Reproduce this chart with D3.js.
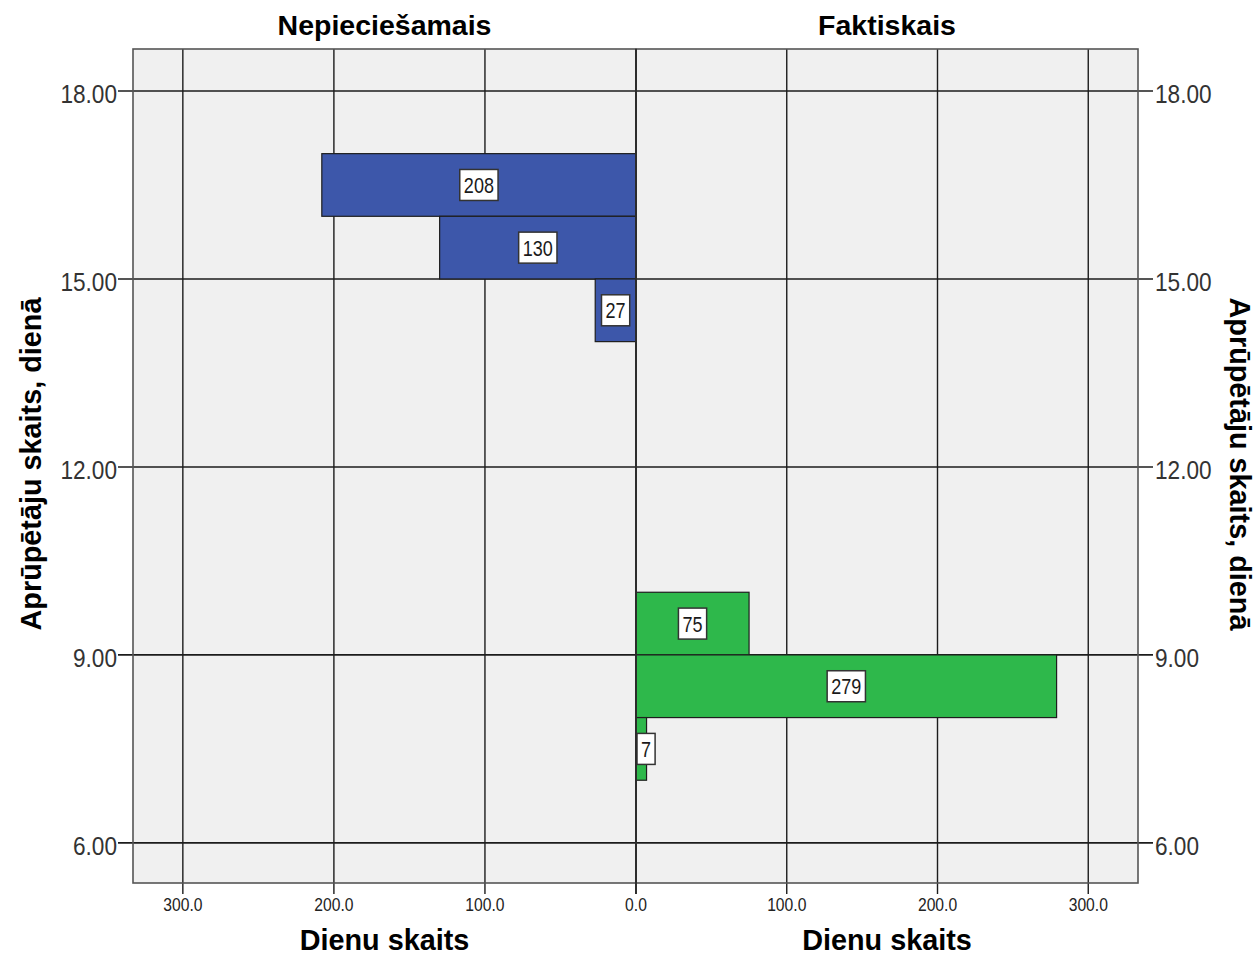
<!DOCTYPE html>
<html>
<head>
<meta charset="utf-8">
<script src="https://cdn.jsdelivr.net/npm/d3@7"></script>
<style>
  html, body { margin: 0; padding: 0; background: #ffffff; }
  svg { display: block; font-family: "Liberation Sans", Arial, sans-serif; }
</style>
</head>
<body>
<svg id="chart" width="1258" height="957"></svg>
<script>
// ---- data ----
const panelTitles = ["Nepieciešamais", "Faktiskais"];
const xAxisTitle = "Dienu skaits";
const yAxisTitle = "Aprūpētāju skaits, dienā";
const yTickValues = [6, 9, 12, 15, 18];
const xTickValues = [0, 100, 200, 300];
const binWidth = 1;
const requiredBinStart = [16, 15, 14];
const requiredCounts = [208, 130, 27];
const actualBinStart = [9, 8, 7];
const actualCounts = [75, 279, 7];

// ---- layout ----
const svg = d3.select("#chart");
const frame = { left: 133, mid: 636, right: 1138, top: 49, bottom: 883 };
const y = d3.scaleLinear().domain([5.36, 18.67]).range([frame.bottom, frame.top]);
const xL = d3.scaleLinear().domain([333, 0]).range([frame.left, frame.mid]);
const xR = d3.scaleLinear().domain([0, 333]).range([frame.mid, frame.right]);

const colors = { bg: "#f0f0f0", blue: "#3d57aa", green: "#2eb84b", grid: "#1c1c1c", frame: "#555" };

function condText(g, x, yy, txt, opts) {
  const t = g.append("g").attr("transform", `translate(${x},${yy}) scale(${opts.sx || 1},1)`)
    .append("text")
    .attr("x", 0).attr("y", 0)
    .attr("text-anchor", opts.anchor || "middle")
    .attr("font-size", opts.size)
    .attr("font-weight", opts.weight || "normal")
    .attr("fill", opts.fill || "#222")
    .text(txt);
  return t;
}

// background
svg.append("rect").attr("x", frame.left).attr("y", frame.top)
  .attr("width", frame.right - frame.left).attr("height", frame.bottom - frame.top)
  .attr("fill", colors.bg);

// vertical gridlines (extend below frame as ticks)
const grid = svg.append("g");
const vx = [];
xTickValues.forEach(v => { vx.push(xL(v)); if (v !== 0) vx.push(xR(v)); });
grid.selectAll("line.v").data(vx).enter().append("line")
  .attr("x1", d => d).attr("x2", d => d)
  .attr("y1", frame.top).attr("y2", frame.bottom + 11)
  .attr("stroke", colors.grid).attr("stroke-width", 1.4);

// horizontal gridlines (extend outside frame as ticks)
grid.selectAll("line.h").data(yTickValues).enter().append("line")
  .attr("x1", frame.left - 15).attr("x2", frame.right + 15)
  .attr("y1", d => y(d)).attr("y2", d => y(d))
  .attr("stroke", colors.grid).attr("stroke-width", 1.6);

// bars
function drawBars(starts, counts, xs, color, side) {
  const g = svg.append("g");
  const data = starts.map((s, i) => ({ s, c: counts[i] }));
  g.selectAll("rect").data(data).enter().append("rect")
    .attr("x", d => side === "left" ? xs(d.c) : xs(0))
    .attr("width", d => Math.abs(xs(d.c) - xs(0)))
    .attr("y", d => y(d.s + binWidth))
    .attr("height", d => y(d.s) - y(d.s + binWidth))
    .attr("fill", color)
    .attr("stroke", "#1e1e1e").attr("stroke-width", 1.2);
  data.forEach(d => {
    const x0 = Math.min(xs(d.c), xs(0)), x1 = Math.max(xs(d.c), xs(0));
    const cy = (y(d.s) + y(d.s + binWidth)) / 2;
    const txt = String(d.c);
    const tw = txt.length * 10.1;
    const bw = tw + 8, bh = 31;
    let bx = (x0 + x1) / 2 - bw / 2;
    if (bx < x0 + 1 && side === "right") bx = x0 + 1;
    g.append("rect").attr("x", bx).attr("y", cy - bh / 2)
      .attr("width", bw).attr("height", bh)
      .attr("fill", "#ffffff").attr("stroke", "#333").attr("stroke-width", 1.5);
    condText(g, bx + bw / 2, cy + 8, txt, { size: 22, sx: 0.82, fill: "#1a1a1a" });
  });
}
drawBars(requiredBinStart, requiredCounts, xL, colors.blue, "left");
drawBars(actualBinStart, actualCounts, xR, colors.green, "right");

// frames
svg.append("rect").attr("x", frame.left).attr("y", frame.top)
  .attr("width", frame.mid - frame.left).attr("height", frame.bottom - frame.top)
  .attr("fill", "none").attr("stroke", colors.frame).attr("stroke-width", 1.6);
svg.append("rect").attr("x", frame.mid).attr("y", frame.top)
  .attr("width", frame.right - frame.mid).attr("height", frame.bottom - frame.top)
  .attr("fill", "none").attr("stroke", colors.frame).attr("stroke-width", 1.6);
svg.append("line").attr("x1", frame.mid).attr("x2", frame.mid)
  .attr("y1", frame.top).attr("y2", frame.bottom + 11)
  .attr("stroke", colors.grid).attr("stroke-width", 1.4);

// y tick labels
const labels = svg.append("g");
yTickValues.forEach(v => {
  const s = d3.format(".2f")(v);
  condText(labels, frame.left - 16, y(v) + 12, s, { size: 26, sx: 0.87, anchor: "end", fill: "#333" });
  condText(labels, frame.right + 17, y(v) + 12, s, { size: 26, sx: 0.87, anchor: "start", fill: "#333" });
});

// x tick labels
xTickValues.forEach(v => {
  const s = d3.format(".1f")(v);
  condText(labels, xL(v), 911, s, { size: 18, sx: 0.87, fill: "#222" });
  if (v !== 0) condText(labels, xR(v), 911, s, { size: 18, sx: 0.87, fill: "#222" });
});

// titles
const titles = svg.append("g");
condText(titles, (frame.left + frame.mid) / 2, 35, panelTitles[0], { size: 28.5, weight: "bold", fill: "#000" });
condText(titles, (frame.mid + frame.right) / 2, 35, panelTitles[1], { size: 28.5, weight: "bold", fill: "#000" });
condText(titles, (frame.left + frame.mid) / 2, 950, xAxisTitle, { size: 28.8, weight: "bold", fill: "#000" });
condText(titles, (frame.mid + frame.right) / 2, 950, xAxisTitle, { size: 28.8, weight: "bold", fill: "#000" });

const yc = 464;
titles.append("text")
  .attr("transform", `translate(41,${yc}) rotate(-90)`)
  .attr("text-anchor", "middle").attr("font-size", 28.8).attr("font-weight", "bold").attr("fill", "#000")
  .text(yAxisTitle);
titles.append("text")
  .attr("transform", `translate(1230,${yc}) rotate(90)`)
  .attr("text-anchor", "middle").attr("font-size", 28.8).attr("font-weight", "bold").attr("fill", "#000")
  .text(yAxisTitle);
</script>
</body>
</html>
